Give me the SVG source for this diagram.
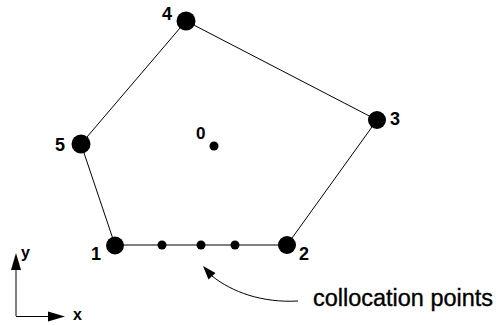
<svg xmlns="http://www.w3.org/2000/svg" width="499" height="325" viewBox="0 0 499 325">
<style>
.lbl{font-family:"Liberation Sans",Arial,sans-serif;font-weight:bold;font-size:18px;fill:#000}
.big{fill:#000}
.edge{stroke:#000;stroke-width:1;fill:none}
.cap{font-family:"Liberation Sans",Arial,sans-serif;font-size:23px;fill:#000;stroke:#000;stroke-width:0.35}
</style>
<rect width="499" height="325" fill="#fff"/>
<g id="connectors">
<polygon class="edge" points="115,245 81,144 186,21 377,120 287,245"/>
<path class="edge" d="M298,301 C262,303 232,292 212,276"/>
<polygon points="203,266 215.5,273 208.5,279.5" fill="#000"/>
<line x1="16" y1="316" x2="16" y2="268" stroke="#000" stroke-width="1"/>
<line x1="16" y1="316.5" x2="50" y2="316.5" stroke="#000" stroke-width="1"/>
<polygon points="16,253 11,270 21,270" fill="#000"/>
<polygon points="65,316.5 48,311.5 48,321.5" fill="#000"/>
</g>
<g id="node1"><circle class="big" cx="115" cy="245.5" r="9"/><text class="lbl" x="91" y="260">1</text></g>
<g id="node2"><circle class="big" cx="287" cy="245" r="9"/><text class="lbl" x="299" y="260">2</text></g>
<g id="node3"><circle class="big" cx="377" cy="120" r="9"/><text class="lbl" x="390" y="125">3</text></g>
<g id="node4"><circle class="big" cx="186" cy="21" r="9.5"/><text class="lbl" x="162" y="20">4</text></g>
<g id="node5"><circle class="big" cx="81" cy="144" r="9.5"/><text class="lbl" x="55" y="151">5</text></g>
<g id="node0"><circle class="big" cx="214" cy="146" r="4.5"/><text class="lbl" x="196" y="139" style="font-size:17px">0</text></g>
<g id="collocation">
<circle class="big" cx="162" cy="245" r="4.5"/>
<circle class="big" cx="201" cy="245" r="4.5"/>
<circle class="big" cx="235" cy="245" r="4.5"/>
</g>
<g id="axes-labels">
<text class="lbl" x="21" y="258" style="font-size:16px">y</text>
<text class="lbl" x="73" y="320" style="font-size:16px">x</text>
</g>
<text class="cap" x="313" y="306" textLength="180" lengthAdjust="spacingAndGlyphs">collocation points</text>
</svg>
